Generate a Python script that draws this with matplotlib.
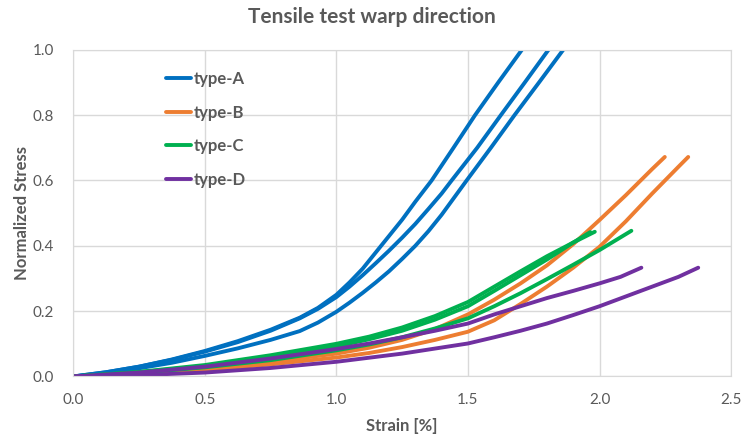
import matplotlib.pyplot as plt

# Strain [%] / normalized stress pairs, one list pair per specimen
a1_strain = [0, 0.125, 0.25, 0.375, 0.5, 0.625, 0.75, 0.861, 0.93, 1.0, 1.05, 1.1, 1.15, 1.2, 1.25,
             1.3, 1.362, 1.445, 1.527, 1.615, 1.705, 1.75]
a1_stress = [0, 0.013, 0.03, 0.052, 0.078, 0.108, 0.143, 0.18, 0.21, 0.25, 0.288, 0.33, 0.38, 0.43, 0.48,
             0.535, 0.60, 0.70, 0.80, 0.90, 1.0, 1.05]
a2_strain = [0, 0.125, 0.25, 0.375, 0.5, 0.625, 0.75, 0.861, 0.93, 1.0, 1.05, 1.1, 1.15, 1.2, 1.25,
             1.3, 1.35, 1.4, 1.438, 1.535, 1.625, 1.716, 1.806, 1.85]
a2_stress = [0, 0.013, 0.03, 0.051, 0.076, 0.105, 0.14, 0.178, 0.207, 0.243, 0.275, 0.31, 0.347, 0.385,
             0.425, 0.467, 0.513, 0.56, 0.60, 0.70, 0.80, 0.90, 1.0, 1.05]
a3_strain = [0, 0.125, 0.25, 0.375, 0.5, 0.625, 0.75, 0.861, 0.93, 1.0, 1.05, 1.1, 1.15, 1.2, 1.25,
             1.3, 1.35, 1.4, 1.495, 1.587, 1.677, 1.77, 1.862, 1.90]
a3_stress = [0, 0.01, 0.025, 0.042, 0.063, 0.086, 0.112, 0.139, 0.165, 0.198, 0.226, 0.256, 0.288, 0.322,
             0.36, 0.40, 0.445, 0.495, 0.60, 0.70, 0.80, 0.90, 1.0, 1.04]

b1_strain = [0, 0.25, 0.5, 0.75, 1.0, 1.125, 1.25, 1.375, 1.5, 1.6, 1.7, 1.8, 1.9, 2.0, 2.1, 2.2, 2.248]
b1_stress = [0, 0.008, 0.025, 0.045, 0.07, 0.088, 0.112, 0.145, 0.19, 0.235, 0.285, 0.34, 0.405, 0.479,
             0.555, 0.635, 0.672]
b2_strain = [0, 0.25, 0.5, 0.75, 1.0, 1.125, 1.25, 1.375, 1.5, 1.6, 1.7, 1.8, 1.9, 2.0, 2.1, 2.2, 2.3, 2.337]
b2_stress = [0, 0.006, 0.02, 0.037, 0.058, 0.072, 0.09, 0.112, 0.137, 0.172, 0.222, 0.275, 0.333, 0.397,
             0.475, 0.56, 0.642, 0.672]

c1_strain = [0, 0.25, 0.5, 0.75, 1.0, 1.125, 1.25, 1.375, 1.5, 1.6, 1.7, 1.8, 1.9, 1.982]
c1_stress = [0, 0.014, 0.035, 0.065, 0.10, 0.122, 0.15, 0.185, 0.228, 0.275, 0.322, 0.368, 0.41, 0.443]
c2_strain = [0, 0.25, 0.5, 0.75, 1.0, 1.125, 1.25, 1.375, 1.5, 1.6, 1.7, 1.8, 1.9, 1.965]
c2_stress = [0, 0.013, 0.032, 0.06, 0.092, 0.114, 0.14, 0.174, 0.215, 0.262, 0.31, 0.358, 0.41, 0.442]
c3_strain = [0, 0.25, 0.5, 0.75, 1.0, 1.125, 1.25, 1.375, 1.5, 1.6, 1.7, 1.8, 1.9, 2.0, 2.121]
c3_stress = [0, 0.011, 0.028, 0.05, 0.08, 0.098, 0.12, 0.147, 0.178, 0.215, 0.255, 0.298, 0.342, 0.387,
             0.446]

d1_strain = [0, 0.25, 0.5, 0.75, 1.0, 1.125, 1.25, 1.375, 1.5, 1.6, 1.7, 1.8, 1.9, 2.0, 2.08, 2.159]
d1_stress = [0, 0.012, 0.03, 0.055, 0.084, 0.101, 0.12, 0.14, 0.162, 0.19, 0.215, 0.24, 0.262, 0.285,
             0.305, 0.333]
d2_strain = [0, 0.25, 0.5, 0.75, 1.0, 1.25, 1.5, 1.6, 1.7, 1.8, 1.9, 2.0, 2.1, 2.2, 2.3, 2.375]
d2_stress = [0, 0.004, 0.012, 0.026, 0.045, 0.07, 0.101, 0.12, 0.14, 0.162, 0.188, 0.215, 0.245, 0.275,
             0.305, 0.333]

type_names = ['type-A', 'type-B', 'type-C', 'type-D']
type_colors = ['#0070C0', '#ED7D31', '#00B050', '#7030A0']
curves = [
    [(a1_strain, a1_stress), (a2_strain, a2_stress), (a3_strain, a3_stress)],
    [(b1_strain, b1_stress), (b2_strain, b2_stress)],
    [(c1_strain, c1_stress), (c2_strain, c2_stress), (c3_strain, c3_stress)],
    [(d1_strain, d1_stress), (d2_strain, d2_stress)],
]

x_ticks = [0.0, 0.5, 1.0, 1.5, 2.0, 2.5]
y_ticks = [0.0, 0.2, 0.4, 0.6, 0.8, 1.0]

plt.rcParams['font.family'] = ['Lato', 'DejaVu Sans']
text_gray = '#595959'
grid_gray = '#D9D9D9'

fig = plt.figure(figsize=(7.43, 4.37), dpi=100)
ax = fig.add_axes([0.0985, 0.1385, 0.8855, 0.7475])

# One legend entry per type, all specimens drawn in the type colour
for name, color, specimens in zip(type_names, type_colors, curves):
    for i, (strain, stress) in enumerate(specimens):
        ax.plot(strain, stress, color=color, lw=2.8, solid_capstyle='round',
                solid_joinstyle='round', label=name if i == 0 else None)

ax.set_xlim(0, 2.5)
ax.set_ylim(0, 1.0)
ax.set_xticks(x_ticks)
ax.set_yticks(y_ticks)
ax.set_xticklabels([f'{t:.1f}' for t in x_ticks])
ax.set_yticklabels([f'{t:.1f}' for t in y_ticks])
ax.tick_params(length=0, labelsize=11, labelcolor=text_gray)
ax.tick_params(axis='x', pad=12)
ax.tick_params(axis='y', pad=14)
ax.grid(True, color=grid_gray, lw=1)
ax.set_axisbelow(True)
for spine in ax.spines.values():
    spine.set_color(grid_gray)

ax.set_xlabel('Strain [%]', fontsize=12, fontweight='bold', color=text_gray, labelpad=8)
ax.set_ylabel('Normalized Stress', fontsize=12, fontweight='bold', color=text_gray, labelpad=2)
fig.suptitle('Tensile test warp direction', x=0.5, y=0.985, fontsize=15,
             fontweight='bold', color=text_gray)

leg = ax.legend(loc='upper left', bbox_to_anchor=(0.131, 0.955), frameon=False,
                fontsize=12, handlelength=1.5, handletextpad=0.15, labelspacing=1.05,
                borderaxespad=0)
for text in leg.get_texts():
    text.set_fontweight('bold')
    text.set_color(text_gray)

plt.savefig('out.png', dpi=100)
plt.close()
